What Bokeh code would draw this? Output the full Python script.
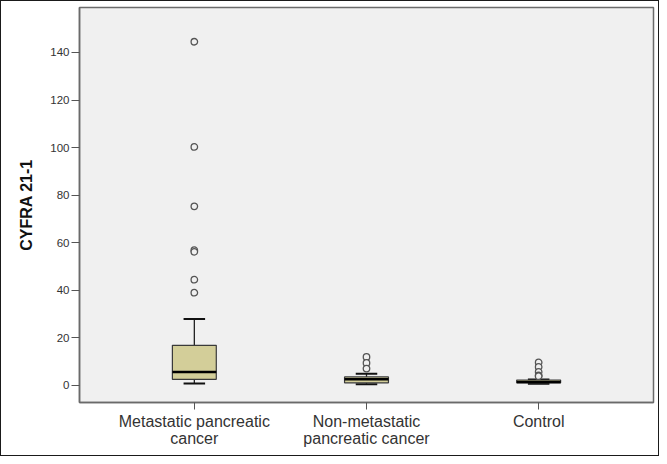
from bokeh.plotting import figure
from bokeh.models import FixedTicker, Range1d
from bokeh.embed import file_html
from bokeh.resources import INLINE

# ---- data ----
categories = ["Metastatic pancreatic\ncancer", "Non-metastatic\npancreatic cancer", "Control"]
positions = [0, 1, 2]
q1 = [2.6, 1.1, 1.1]
median = [5.7, 2.6, 1.5]
q3 = [16.9, 3.6, 2.3]
whisker_low = [0.8, 0.5, 0.7]
whisker_high = [27.9, 4.9, 2.5]
outliers_metastatic = [144.5, 100.3, 75.3, 56.9, 56.2, 44.5, 39.0]
outliers_nonmetastatic = [12.0, 9.5, 7.1]
outliers_control = [9.7, 7.8, 5.7, 4.2, 3.9]
y_ticks = [0, 20, 40, 60, 80, 100, 120, 140]

BOX_W = 0.255
CAP_W = 0.125
FONT = "Liberation Sans"

p = figure(width=659, height=456, output_backend="svg", toolbar_location=None,
           x_range=Range1d(-0.667, 2.667), y_range=Range1d(-7.15, 158.9))
p.min_border_left = 78
p.min_border_top = 6
p.min_border_right = 7
p.min_border_bottom = 55
p.background_fill_color = "#f0f0f0"
p.border_fill_color = "white"
p.outline_line_color = "#6a6a6a"
p.outline_line_width = 1.5
p.xgrid.visible = False
p.ygrid.visible = False
p.styles = {"border": "1px solid #1a1a1a"}

# whiskers
p.segment(x0=positions, y0=q3, x1=positions, y1=whisker_high, line_color="#222222", line_width=1.3)
p.segment(x0=positions, y0=q1, x1=positions, y1=whisker_low, line_color="#222222", line_width=1.3)
# caps
p.segment(x0=[x - CAP_W / 2 for x in positions], y0=whisker_high,
          x1=[x + CAP_W / 2 for x in positions], y1=whisker_high, line_color="#111111", line_width=2)
p.segment(x0=[x - CAP_W / 2 for x in positions], y0=whisker_low,
          x1=[x + CAP_W / 2 for x in positions], y1=whisker_low, line_color="#111111", line_width=2)
# boxes
p.vbar(x=positions, width=BOX_W, bottom=q1, top=q3, fill_color="#d3ce99",
       line_color="#3a3a3a", line_width=1.2)
# medians
p.segment(x0=[x - BOX_W / 2 for x in positions], y0=median,
          x1=[x + BOX_W / 2 for x in positions], y1=median, line_color="#000000", line_width=2.5)

# outliers
for x, vals in zip(positions, [outliers_metastatic, outliers_nonmetastatic, outliers_control]):
    p.scatter(x=[x] * len(vals), y=vals, marker="circle", size=6.5,
              fill_color="#f0f0f0", line_color="#555555", line_width=1.3)

# axes
p.xaxis.ticker = FixedTicker(ticks=positions)
p.xaxis.major_label_overrides = {i: c for i, c in zip(positions, categories)}
p.xaxis.major_tick_out = 7
p.xaxis.major_tick_in = 0
p.xaxis.minor_tick_line_color = None
p.xaxis.major_label_standoff = 3
p.xaxis.major_label_text_font = FONT
p.xaxis.major_label_text_font_size = "16px"
p.xaxis.major_label_text_line_height = 1.0
p.xaxis.major_label_text_color = "#333333"
p.xaxis.axis_line_color = "#6a6a6a"
p.xaxis.axis_line_width = 1.5
p.xaxis.major_tick_line_color = "#555555"

p.yaxis.ticker = FixedTicker(ticks=y_ticks)
p.yaxis.major_tick_out = 8
p.yaxis.major_tick_in = 0
p.yaxis.minor_tick_line_color = None
p.yaxis.major_label_standoff = 2
p.yaxis.major_label_text_font = FONT
p.yaxis.major_label_text_font_size = "11.5px"
p.yaxis.major_label_text_color = "#333333"
p.yaxis.axis_line_color = "#6a6a6a"
p.yaxis.axis_line_width = 1.5
p.yaxis.major_tick_line_color = "#555555"
p.yaxis.axis_label = "CYFRA 21-1"
p.yaxis.axis_label_text_font = FONT
p.yaxis.axis_label_text_font_style = "bold"
p.yaxis.axis_label_text_font_size = "16px"
p.yaxis.axis_label_text_color = "#111111"
p.yaxis.axis_label_standoff = 12

open("out.html", "w").write(file_html(p, INLINE))
